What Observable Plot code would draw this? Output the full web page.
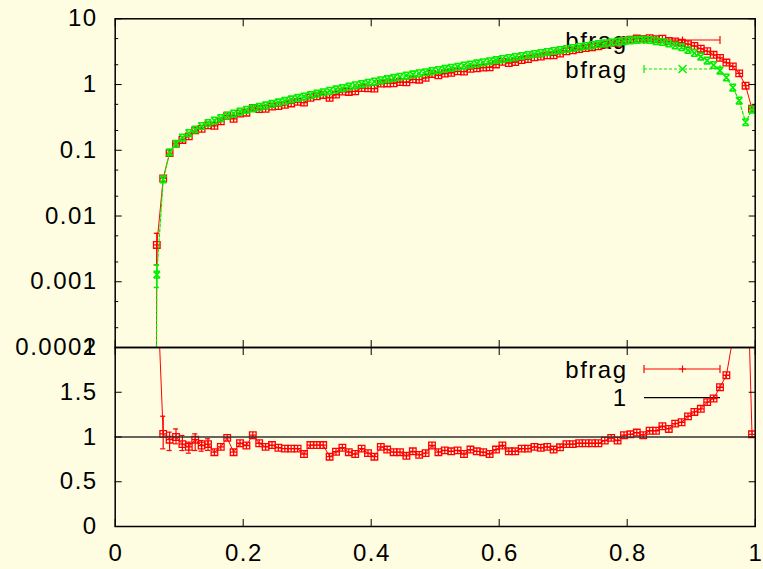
<!DOCTYPE html>
<html><head><meta charset="utf-8">
<script src="https://cdn.jsdelivr.net/npm/d3@7"></script>
<script src="https://cdn.jsdelivr.net/npm/@observablehq/plot@0.6"></script>
<style>
html,body{margin:0;padding:0;background:#fefde1;}
#wrap{position:relative;width:763px;height:569px;overflow:hidden;}
#wrap svg{position:absolute;left:0;top:0;}
</style></head><body><div id="wrap"></div>
<script>
// bin centres
const xs = [0.055,0.065,0.075,0.085,0.095,0.105,0.115,0.125,0.135,0.145,0.155,0.165,0.175,0.185,0.195,0.205,0.215,0.225,0.235,0.245,0.255,0.265,0.275,0.285,0.295,0.305,0.315,0.325,0.335,0.345,0.355,0.365,0.375,0.385,0.395,0.405,0.415,0.425,0.435,0.445,0.455,0.465,0.475,0.485,0.495,0.505,0.515,0.525,0.535,0.545,0.555,0.565,0.575,0.585,0.595,0.605,0.615,0.625,0.635,0.645,0.655,0.665,0.675,0.685,0.695,0.705,0.715,0.725,0.735,0.745,0.755,0.765,0.775,0.785,0.795,0.805,0.815,0.825,0.835,0.845,0.855,0.865,0.875,0.885,0.895,0.905,0.915,0.925,0.935,0.945,0.955,0.965,0.975,0.985,0.995];
// top panel, series 1 (red)
const bfragRed = [1e-30,0.00363,0.0373,0.0905,0.125,0.1435,0.163,0.201,0.212,0.239,0.235,0.275,0.335,0.300,0.361,0.373,0.442,0.424,0.428,0.461,0.470,0.490,0.516,0.544,0.531,0.628,0.662,0.695,0.626,0.703,0.779,0.771,0.787,0.886,0.873,0.867,1.031,1.039,1.046,1.091,1.083,1.197,1.185,1.262,1.448,1.380,1.469,1.509,1.586,1.571,1.733,1.759,1.807,1.832,2.022,2.211,2.126,2.202,2.362,2.446,2.592,2.654,2.780,2.783,2.966,3.193,3.307,3.462,3.586,3.701,3.819,4.068,4.313,4.301,4.682,4.829,5.010,4.937,5.088,4.911,4.968,4.586,4.515,4.311,4.120,3.860,3.507,3.221,2.833,2.541,2.161,1.89,1.48,0.96,0.428];
// top panel, series 2 (green)
const bfragGreen = [1e-30,0.00128,0.036,0.0933,0.125,0.156,0.183,0.207,0.234,0.26,0.283,0.309,0.338,0.362,0.388,0.412,0.433,0.456,0.481,0.507,0.534,0.563,0.593,0.625,0.656,0.69,0.727,0.764,0.802,0.842,0.885,0.929,0.972,1.018,1.065,1.111,1.158,1.208,1.26,1.314,1.371,1.425,1.481,1.539,1.6,1.663,1.728,1.796,1.866,1.94,2.015,2.094,2.177,2.262,2.351,2.443,2.531,2.621,2.715,2.812,2.912,3.016,3.124,3.236,3.351,3.471,3.595,3.723,3.856,3.98,4.106,4.238,4.357,4.48,4.59,4.688,4.771,4.84,4.755,4.59,4.436,4.207,3.926,3.7,3.35,3.016,2.667,2.317,1.981,1.633,1.279,0.9,0.571,0.267,0.416];
// top-panel error bars (only where visible)
const errX = [0.065];
const redLo = [0.0018], redHi = [0.00546];
const greenLo = [0.00082], greenHi = [0.0018];
// ratio panel
const ratioX = xs.slice(1);
const ratio = [2.8,1.035,0.97,1.0,0.92,0.89,0.97,0.905,0.92,0.83,0.89,0.99,0.83,0.93,0.905,1.02,0.93,0.89,0.91,0.88,0.87,0.87,0.87,0.81,0.91,0.91,0.91,0.78,0.835,0.88,0.83,0.81,0.87,0.82,0.78,0.89,0.86,0.83,0.83,0.79,0.84,0.80,0.82,0.905,0.83,0.85,0.84,0.85,0.81,0.86,0.84,0.83,0.81,0.86,0.905,0.84,0.84,0.87,0.87,0.89,0.88,0.89,0.86,0.885,0.92,0.92,0.93,0.93,0.93,0.93,0.96,0.99,0.96,1.02,1.03,1.05,1.02,1.07,1.07,1.12,1.09,1.15,1.165,1.23,1.28,1.315,1.39,1.43,1.556,1.69,2.1,2.6,3.6,1.03];
const ratioErrX = [0.075,0.085,0.095,0.105,0.115,0.125,0.135,0.145];
const ratioLo = [0.868,0.849,0.924,0.849,0.819,0.849,0.841,0.85];
const ratioHi = [1.232,1.054,1.09,1.017,0.942,1.035,0.961,0.98];
const refLine = [1];
// ticks
const xTicks = [0,0.2,0.4,0.6,0.8,1];
const xTickLabels = ["0","0.2","0.4","0.6","0.8","1"];
const yTopTicks = [10,1,0.1,0.01,0.001,0.0001];
const yTopLabels = ["10","1","0.1","0.01","0.001","0.0001"];
const yTopMinor = [5,2,0.5,0.2,0.05,0.02,0.005,0.002,0.0005,0.0002];
const yBotTicks = [0,0.5,1,1.5,2];
const yBotLabels = ["0","0.5","1","1.5","2"];
const topNames = ["bfrag","bfrag"];
const botNames = ["bfrag","1"];

const RED = "#ff0000", GREEN = "#00f000";
const W = 763, H = 569, ML = 114.7, MR = 8.3, TOP = 18.3, MID = 347, BOT = 526;
const FONT = {fontFamily: "'Liberation Sans', Arial, sans-serif", fontSize: "24px", letterSpacing: "1.5px", background: "transparent", color: "#000", overflow: "visible"};

const boxPlus = {draw(c, size){const r=Math.sqrt(size/Math.PI);c.moveTo(-r,-r);c.lineTo(r,-r);c.lineTo(r,r);c.lineTo(-r,r);c.closePath();c.moveTo(-r,0);c.lineTo(r,0);c.moveTo(0,-r);c.lineTo(0,r);}};
const boxX = {draw(c, size){const r=Math.sqrt(size/Math.PI);c.moveTo(-r,-r);c.lineTo(r,-r);c.moveTo(-r,r);c.lineTo(r,r);c.moveTo(-r,-r);c.lineTo(r,r);c.moveTo(r,-r);c.lineTo(-r,r);}};

const topData = xs.map((x,i)=>({x, red: bfragRed[i], green: bfragGreen[i]}));
const topErr = errX.map((x,i)=>({x, rlo: redLo[i], rhi: redHi[i], glo: greenLo[i], ghi: greenHi[i]}));
const ratioData = ratioX.map((x,i)=>({x, r: ratio[i]}));
const ratioErr = ratioErrX.map((x,i)=>({x, lo: ratioLo[i], hi: ratioHi[i]}));
const half = 0.004;

function frameTicks(yt, ym) {
  const blank = () => "";
  const m = [
    Plot.axisX({ticks: xTicks, anchor: "top", tickSize: 7, dy: 7, tickFormat: blank, label: null}),
    Plot.axisX({ticks: xTicks, anchor: "bottom", tickSize: 7, dy: -7, tickFormat: blank, label: null}),
    Plot.axisY({ticks: yt, anchor: "left", tickSize: 7, dx: 7, tickFormat: blank, label: null}),
    Plot.axisY({ticks: yt, anchor: "right", tickSize: 7, dx: -7, tickFormat: blank, label: null})
  ];
  if (ym) m.push(
    Plot.axisY({ticks: ym, anchor: "left", tickSize: 3.5, dx: 3.5, tickFormat: blank, label: null}),
    Plot.axisY({ticks: ym, anchor: "right", tickSize: 3.5, dx: -3.5, tickFormat: blank, label: null})
  );
  return m;
}

const topPlot = Plot.plot({
  width: W, height: H, marginLeft: ML, marginRight: MR, marginTop: TOP, marginBottom: H - MID,
  style: FONT,
  x: {domain: [0,1], axis: null},
  y: {type: "log", domain: [0.0001, 10], axis: null},
  marks: [
    Plot.line(topData, {x: "x", y: "red", stroke: RED, strokeWidth: 1, clip: true}),
    Plot.ruleX(topErr, {x: "x", y1: "rlo", y2: "rhi", stroke: RED, strokeWidth: 1.3, clip: true}),
    Plot.ruleY(topErr, {y: "rlo", x1: d => d.x - half, x2: d => d.x + half, stroke: RED, strokeWidth: 1.3}),
    Plot.ruleY(topErr, {y: "rhi", x1: d => d.x - half, x2: d => d.x + half, stroke: RED, strokeWidth: 1.3}),
    Plot.dot(topData, {x: "x", y: "red", symbol: boxPlus, r: 3.3, stroke: RED, fill: "none", strokeWidth: 1.3, clip: true}),
    Plot.line(topData, {x: "x", y: "green", stroke: GREEN, strokeWidth: 1.2, strokeDasharray: "3,2", clip: true}),
    Plot.ruleX(topErr, {x: "x", y1: "glo", y2: "ghi", stroke: GREEN, strokeWidth: 1.5, clip: true}),
    Plot.ruleY(topErr, {y: "glo", x1: d => d.x - half, x2: d => d.x + half, stroke: GREEN, strokeWidth: 1.5}),
    Plot.ruleY(topErr, {y: "ghi", x1: d => d.x - half, x2: d => d.x + half, stroke: GREEN, strokeWidth: 1.5}),
    Plot.dot(topData, {x: "x", y: "green", symbol: boxX, r: 3.3, stroke: GREEN, fill: "none", strokeWidth: 1.6, clip: true}),
    Plot.frame({stroke: "#000", strokeWidth: 1.5}),
    ...frameTicks(yTopTicks, yTopMinor),
    Plot.axisY({ticks: yTopTicks, anchor: "left", tickSize: 0, tickPadding: 17.5, tickFormat: d => yTopLabels[yTopTicks.indexOf(d)], label: null})
  ]
});

const botPlot = Plot.plot({
  width: W, height: H, marginLeft: ML, marginRight: MR, marginTop: MID, marginBottom: H - BOT,
  style: FONT,
  x: {domain: [0,1], axis: null},
  y: {domain: [0, 2], axis: null},
  marks: [
    Plot.line(ratioData, {x: "x", y: "r", stroke: RED, strokeWidth: 1, clip: true}),
    Plot.ruleX(ratioErr, {x: "x", y1: "lo", y2: "hi", stroke: RED, strokeWidth: 1.2}),
    Plot.ruleY(ratioErr, {y: "lo", x1: d => d.x - half, x2: d => d.x + half, stroke: RED, strokeWidth: 1.2}),
    Plot.ruleY(ratioErr, {y: "hi", x1: d => d.x - half, x2: d => d.x + half, stroke: RED, strokeWidth: 1.2}),
    Plot.dot(ratioData, {x: "x", y: "r", symbol: boxPlus, r: 3.3, stroke: RED, fill: "none", strokeWidth: 1.3, clip: true}),
    Plot.ruleY(refLine, {stroke: "#333", strokeWidth: 1.5}),
    Plot.frame({stroke: "#000", strokeWidth: 1.5}),
    ...frameTicks(yBotTicks, null),
    Plot.axisY({ticks: yBotTicks, anchor: "left", tickSize: 0, tickPadding: 17.5, tickFormat: d => yBotLabels[yBotTicks.indexOf(d)], label: null}),
    Plot.axisX({ticks: xTicks, anchor: "bottom", tickSize: 0, tickPadding: 17, dx: 0.75, tickFormat: d => xTickLabels[xTicks.indexOf(d)], label: null})
  ]
});

// legends (drawn under the data, as in the original)
function row(y, label, color, dash, marker, caps) {
  let s = `<text x="627.5" y="${y}" text-anchor="end" dominant-baseline="central" fill="#000">${label}</text>`;
  s += `<line x1="644" x2="720" y1="${y}" y2="${y}" stroke="${color}" stroke-width="1.2" ${dash ? `stroke-dasharray="${dash}"` : ""}/>`;
  if (caps) s += `<line x1="644" x2="644" y1="${y-4}" y2="${y+4}" stroke="${color}" stroke-width="1.2"/><line x1="720" x2="720" y1="${y-4}" y2="${y+4}" stroke="${color}" stroke-width="1.2"/>`;
  if (marker === "+") s += `<path d="M679,${y}h7M682.5,${y-3.5}v7" stroke="${color}" stroke-width="1.2" fill="none"/>`;
  if (marker === "x") s += `<path d="M678.5,${y-4}l8,8M686.5,${y-4}l-8,8" stroke="${color}" stroke-width="1.4" fill="none"/>`;
  return s;
}
const legend = `<svg width="${W}" height="${H}" style="font-family:'Liberation Sans',Arial,sans-serif;font-size:24px;letter-spacing:1.5px">`
  + row(40, topNames[0], RED, null, "+", true)
  + row(69, topNames[1], GREEN, "3,2", "x", true)
  + row(369, botNames[0], RED, null, "+", true)
  + row(397.7, botNames[1], "#000", null, null, false)
  + `</svg>`;
const wrap = document.getElementById("wrap");
wrap.innerHTML = legend;
wrap.appendChild(topPlot);
wrap.appendChild(botPlot);
</script>
</body></html>
